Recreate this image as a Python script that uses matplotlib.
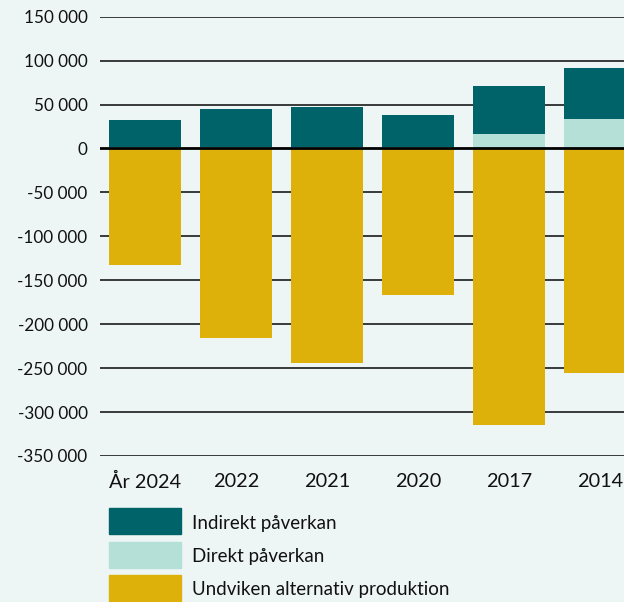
import matplotlib.pyplot as plt
from matplotlib.patches import Rectangle

# data
years = ['År 2024', '2022', '2021', '2020', '2017', '2014']
indirekt = [30200, 42700, 45000, 35900, 54600, 58400]
direkt = [2000, 2000, 2000, 2000, 16300, 33400]
undviken = [-132800, -216000, -244000, -167000, -315000, -255600]

legend_labels = ['Indirekt påverkan', 'Direkt påverkan', 'Undviken alternativ produktion']
colors = ['#00636a', '#b5e0d8', '#ddb00a']
bg = '#eef6f5'

plt.rcParams['font.family'] = ['Lato', 'DejaVu Sans']

W, H = 624, 602
fig = plt.figure(figsize=(W / 100, H / 100), dpi=100, facecolor=bg)
ax = fig.add_axes([100 / W, 1 - 456 / H, 1 - 100 / W, (456 - 16.7) / H])
ax.set_facecolor(bg)

x = list(range(len(years)))
ax.bar(x, direkt, width=0.79, color=colors[1], zorder=3)
ax.bar(x, indirekt, bottom=direkt, width=0.79, color=colors[0], zorder=3)
ax.bar(x, undviken, width=0.79, color=colors[2], zorder=3)

ax.set_xlim(-0.495, 5.264)
ax.set_ylim(-350000, 150000)
yt = list(range(-350000, 150001, 50000))
ax.set_yticks(yt)
ax.set_yticklabels([f'{v:,}'.replace(',', ' ') for v in yt], fontsize=12.3, color='#111111')
ax.set_xticks(x)
ax.set_xticklabels(years, fontsize=14.3, color='#111111')
ax.tick_params(axis='x', length=0, pad=12)
ax.tick_params(axis='y', length=0, pad=9)
for v in yt:
    if v == 0:
        ax.axhline(0, color='black', lw=2, zorder=4)
    else:
        ax.axhline(v, color='#2b2b2b', lw=1.3, zorder=1)
for s in ax.spines.values():
    s.set_visible(False)

# legend
for i, lab in enumerate(legend_labels):
    y0 = 508 + i * 33.5
    fig.add_artist(Rectangle((109 / W, 1 - (y0 + 26) / H), 72 / W, 26 / H,
                             transform=fig.transFigure, color=colors[i]))
    fig.text(192 / W, 1 - (y0 + 15) / H, lab, fontsize=13.5, va='center', ha='left',
             color='#111111')

fig.savefig('out.png', dpi=100, facecolor=bg)
